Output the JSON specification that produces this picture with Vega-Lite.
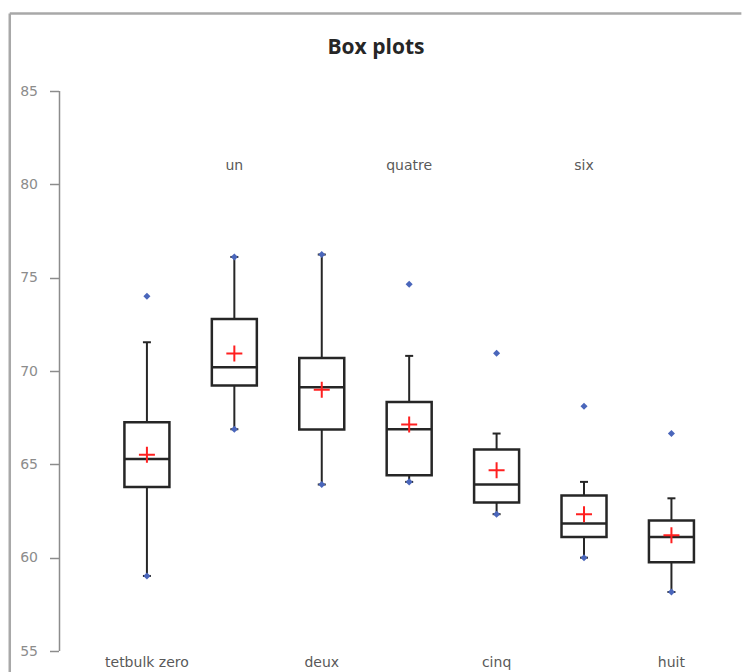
{
  "$schema": "https://vega.github.io/schema/vega-lite/v6.json",
  "width": 684,
  "height": 560,
  "autosize": {"type": "none"},
  "padding": {"left": 54.5, "top": 91, "right": 4.5, "bottom": 21},
  "background": "white",
  "config": {
    "view": {"stroke": null},
    "axisY": {
      "grid": false,
      "domain": false,
      "ticks": true,
      "tickCount": 7,
      "tickSize": 9,
      "tickColor": "#8c8c8c",
      "tickWidth": 1.5,
      "offset": -4,
      "labelPadding": 12,
      "labelFont": "DejaVu Sans",
      "labelFontSize": 14,
      "labelColor": "#8c8c8c"
    }
  },
  "data": {
    "values": [
      {"name": "tetbulk zero", "idx": 1, "min": 59.02, "q1": 63.79, "median": 65.29, "q3": 67.26, "mean": 65.52, "whigh": 71.54, "max": 74.0},
      {"name": "un", "idx": 2, "min": 66.88, "q1": 69.22, "median": 70.2, "q3": 72.79, "mean": 70.94, "whigh": 76.11, "max": 76.11},
      {"name": "deux", "idx": 3, "min": 63.92, "q1": 66.86, "median": 69.13, "q3": 70.7, "mean": 68.99, "whigh": 76.24, "max": 76.24},
      {"name": "quatre", "idx": 4, "min": 64.06, "q1": 64.42, "median": 66.88, "q3": 68.34, "mean": 67.13, "whigh": 70.81, "max": 74.65},
      {"name": "cinq", "idx": 5, "min": 62.33, "q1": 62.95, "median": 63.92, "q3": 65.79, "mean": 64.68, "whigh": 66.65, "max": 70.95},
      {"name": "six", "idx": 6, "min": 60.0, "q1": 61.11, "median": 61.83, "q3": 63.33, "mean": 62.33, "whigh": 64.06, "max": 68.11},
      {"name": "huit", "idx": 7, "min": 58.16, "q1": 59.75, "median": 61.11, "q3": 61.99, "mean": 61.2, "whigh": 63.18, "max": 66.65}
    ]
  },
  "encoding": {
    "x": {"field": "idx", "type": "quantitative", "scale": {"domain": [0, 7.71], "nice": false, "zero": false}, "axis": null}
  },
  "layer": [
    {
      "transform": [{"filter": "datum.idx == 1"}],
      "mark": {"type": "rule", "color": "#a8a8a8", "strokeWidth": 2.5},
      "encoding": {"x": {"datum": -0.569, "type": "quantitative", "axis": null}, "y": {"datum": 89.15, "type": "quantitative", "title": null}, "y2": {"datum": 53.8}}
    },
    {
      "transform": [{"filter": "datum.idx == 1"}],
      "mark": {"type": "rule", "color": "#a8a8a8", "strokeWidth": 2.5},
      "encoding": {"x": {"datum": -0.569, "type": "quantitative", "axis": null}, "x2": {"datum": 7.8}, "y": {"datum": 89.15, "type": "quantitative", "title": null}}
    },
    {
      "transform": [{"filter": "datum.idx == 1"}],
      "mark": {"type": "rule", "color": "#8c8c8c", "strokeWidth": 1.5},
      "encoding": {"x": {"datum": 0, "type": "quantitative", "axis": null}, "y": {"datum": 55, "type": "quantitative", "title": null}, "y2": {"datum": 85}}
    },
    {
      "transform": [{"filter": "datum.idx == 1"}],
      "mark": {"type": "text", "text": "Box plots", "align": "center", "baseline": "alphabetic", "font": "Open Sans", "fontSize": 21, "fontWeight": "bold", "color": "#262626"},
      "encoding": {"x": {"datum": 3.62, "type": "quantitative", "axis": null}, "y": {"datum": 86.98, "type": "quantitative", "title": null}}
    },
    {
      "mark": {"type": "rule", "color": "#262626", "strokeWidth": 2},
      "encoding": {
        "y": {"field": "min", "type": "quantitative", "title": null, "scale": {"domain": [55, 85], "nice": false, "zero": false}},
        "y2": {"field": "whigh"}
      }
    },
    {
      "mark": {"type": "tick", "orient": "horizontal", "color": "#262626", "size": 8, "thickness": 2, "opacity": 1},
      "encoding": {"y": {"field": "whigh", "type": "quantitative", "title": null}}
    },
    {
      "mark": {"type": "tick", "orient": "horizontal", "color": "#262626", "size": 8, "thickness": 2, "opacity": 1},
      "encoding": {"y": {"field": "min", "type": "quantitative", "title": null}}
    },
    {
      "mark": {"type": "bar", "orient": "vertical", "width": 45, "fill": "white", "stroke": "#262626", "strokeWidth": 2.5},
      "encoding": {
        "y": {"field": "q1", "type": "quantitative", "title": null},
        "y2": {"field": "q3"}
      }
    },
    {
      "mark": {"type": "tick", "orient": "horizontal", "color": "#262626", "size": 45, "thickness": 2.5, "opacity": 1},
      "encoding": {"y": {"field": "median", "type": "quantitative", "title": null}}
    },
    {
      "mark": {"type": "point", "shape": "diamond", "filled": true, "size": 50, "color": "#4a66bb", "opacity": 1},
      "encoding": {"y": {"field": "min", "type": "quantitative", "title": null}}
    },
    {
      "mark": {"type": "point", "shape": "diamond", "filled": true, "size": 50, "color": "#4a66bb", "opacity": 1},
      "encoding": {"y": {"field": "max", "type": "quantitative", "title": null}}
    },
    {
      "mark": {"type": "point", "shape": "M-1,0L1,0M0,-1L0,1", "filled": false, "size": 256, "stroke": "#ff2020", "strokeWidth": 2, "opacity": 1},
      "encoding": {"y": {"field": "mean", "type": "quantitative", "title": null}}
    },
    {
      "transform": [{"filter": "datum.idx % 2 == 1"}],
      "mark": {"type": "text", "baseline": "alphabetic", "dy": 16, "font": "DejaVu Sans", "fontSize": 14, "color": "#595959"},
      "encoding": {"y": {"datum": 55, "title": null}, "text": {"field": "name"}}
    },
    {
      "transform": [{"filter": "datum.idx % 2 == 0"}],
      "mark": {"type": "text", "baseline": "alphabetic", "font": "DejaVu Sans", "fontSize": 14, "color": "#595959"},
      "encoding": {"y": {"datum": 80.75, "title": null}, "text": {"field": "name"}}
    }
  ]
}
